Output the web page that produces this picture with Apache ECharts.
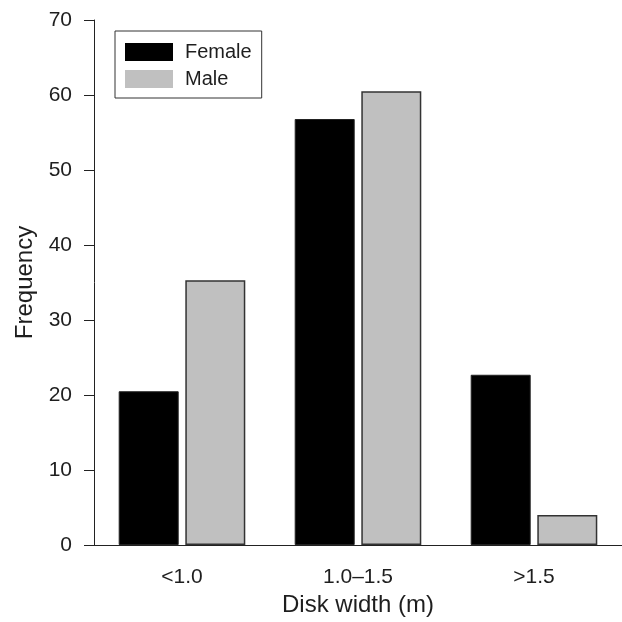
<!DOCTYPE html>
<html>
<head>
<meta charset="utf-8">
<script src="https://cdn.jsdelivr.net/npm/echarts@6/dist/echarts.min.js"></script>
<style>
  html, body { margin: 0; padding: 0; background: #fff; }
  #chart { width: 622px; height: 622px; }
</style>
</head>
<body>
<div id="chart"></div>
<script>
// disk width classes
const categories = ['<1.0', '1.0\u20131.5', '>1.5'];
const femaleCounts = [20.5, 56.8, 22.7];
const maleCounts = [35.3, 60.5, 4.0];

const myChart = echarts.init(document.getElementById('chart'));
const font = 'Liberation Sans, Arial, sans-serif';
const ink = '#1e1e1e';

const option = {
    animation: false,
    textStyle: { fontFamily: font, color: ink },
    grid: { left: 94, right: 0, top: 20, bottom: 77 },
    legend: {
        orient: 'vertical',
        left: 115,
        top: 31,
        padding: [11, 10, 9, 10],
        itemWidth: 48,
        itemHeight: 18,
        itemGap: 7,
        borderColor: '#333',
        borderWidth: 1,
        icon: 'rect',
        textStyle: { fontSize: 20, color: ink, fontFamily: font, padding: [0, 0, 0, 7] },
        data: [
            { name: 'Female', itemStyle: { borderWidth: 0 } },
            { name: 'Male', itemStyle: { borderWidth: 0 } }
        ]
    },
    xAxis: {
        type: 'category',
        data: categories,
        name: 'Disk width (m)',
        nameLocation: 'middle',
        nameGap: 47,
        nameTextStyle: { fontSize: 24, color: ink, fontFamily: font },
        axisLine: { lineStyle: { color: '#222', width: 1 } },
        axisTick: { alignWithLabel: true, length: 8, lineStyle: { color: '#222' } },
        axisLabel: { fontSize: 21, color: ink, margin: 22, fontFamily: font },
        splitLine: { show: false }
    },
    yAxis: {
        type: 'value',
        min: 0,
        max: 70,
        interval: 10,
        name: 'Frequency',
        nameLocation: 'middle',
        nameRotate: 90,
        nameGap: 57,
        nameTextStyle: { fontSize: 24, color: ink, fontFamily: font },
        axisLine: { show: true, lineStyle: { color: '#222', width: 1 } },
        axisTick: { show: true, length: 10, lineStyle: { color: '#222' } },
        axisLabel: { fontSize: 21, color: ink, margin: 22, fontFamily: font },
        splitLine: { show: false }
    },
    series: [
        {
            name: 'Female',
            type: 'bar',
            barWidth: 60,
            barGap: '11%',
            itemStyle: { color: '#000', borderColor: '#222', borderWidth: 1 },
            data: femaleCounts
        },
        {
            name: 'Male',
            type: 'bar',
            barWidth: 60,
            itemStyle: { color: '#c0c0c0', borderColor: '#333', borderWidth: 1.5 },
            data: maleCounts
        }
    ]
};

myChart.setOption(option);
window.addEventListener('resize', () => {
    myChart.resize();
});
</script>
</body>
</html>
